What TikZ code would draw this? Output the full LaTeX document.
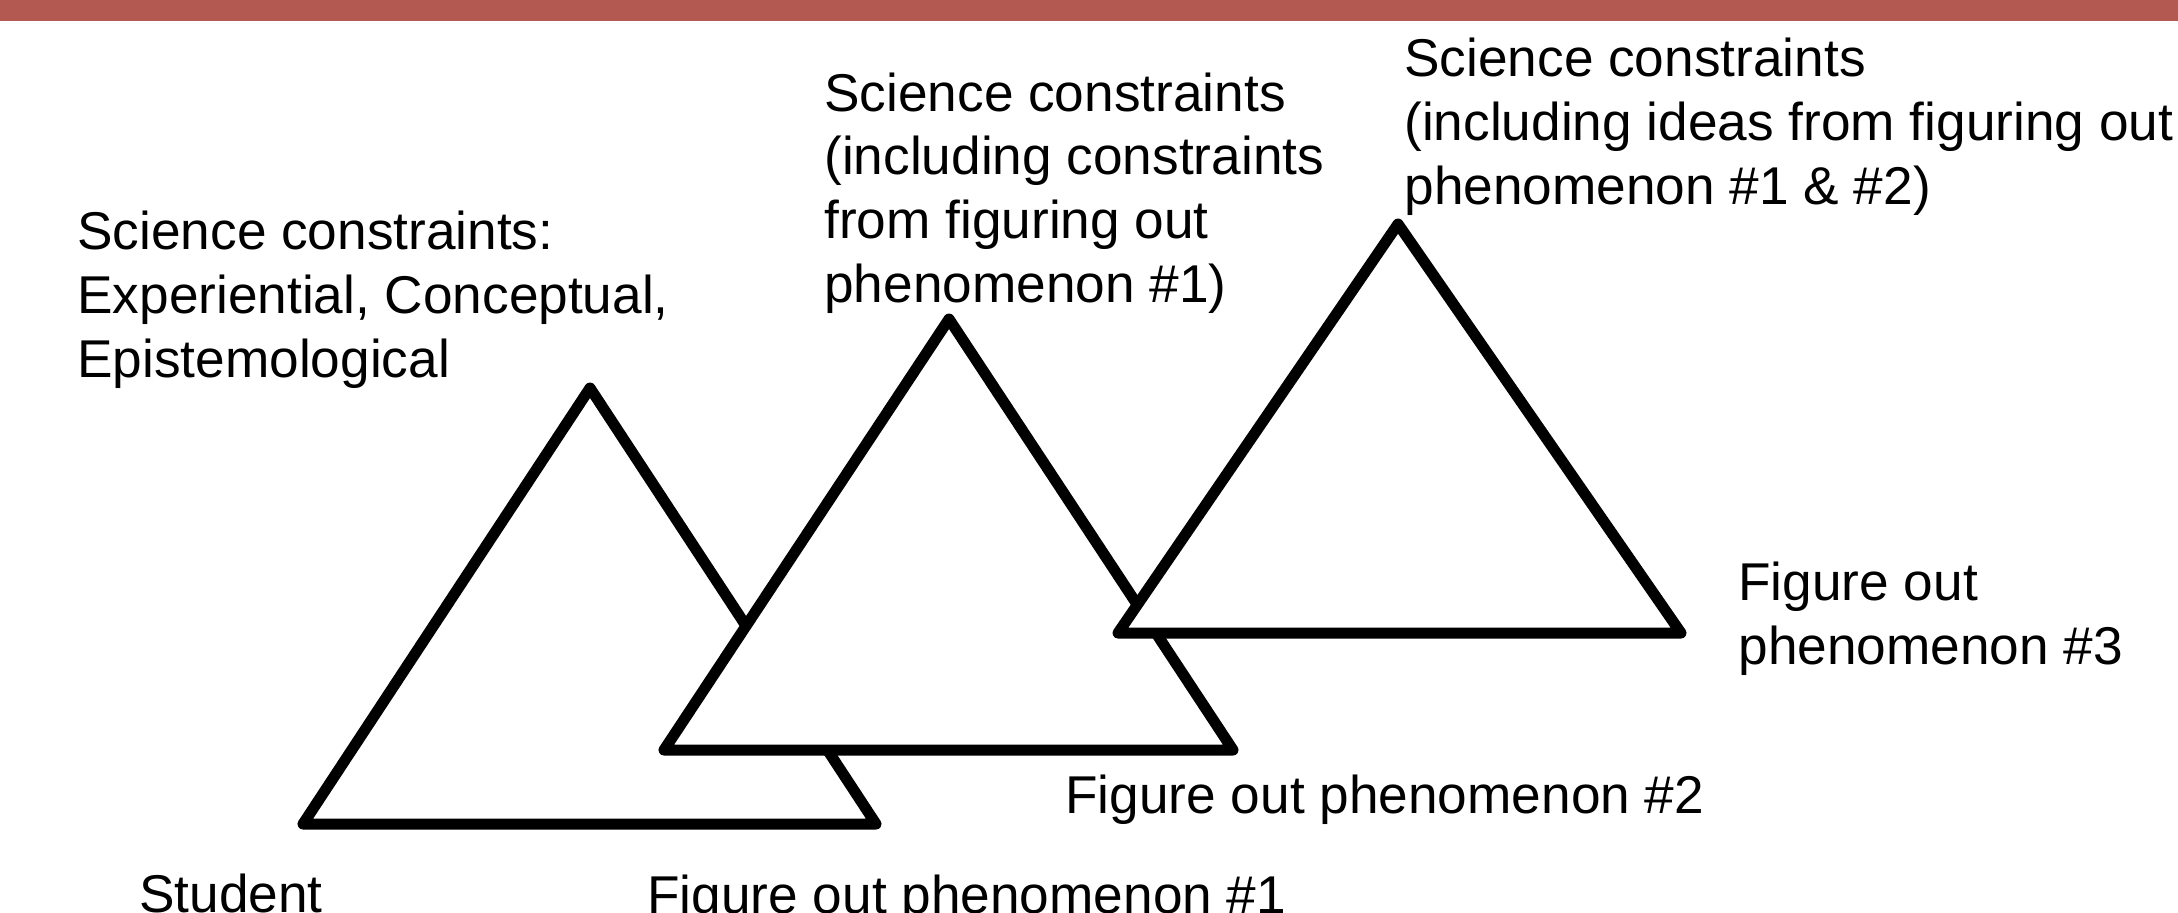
\documentclass[tikz,border=0pt]{standalone}
\usepackage{fontspec}
\setmainfont{Liberation Sans}
\definecolor{barred}{RGB}{180,89,81}
\tikzset{
  lbl/.style={anchor=base west, inner sep=0pt, align=left, font=\fontsize{26.6}{31.8}\selectfont},
  tri/.style={draw=black, fill=white, line width=5.5pt, line join=round}
}
\begin{document}
\begin{tikzpicture}[x=0.5pt,y=-0.5pt]
\useasboundingbox (0,0) rectangle (2178,912);
\fill[barred] (0,0) rectangle (2178,21);
% triangle 1
\coordinate (a1) at (590,388);
\coordinate (b1) at (303,824);
\coordinate (c1) at (876,824);
\draw[tri] (a1) -- (c1) -- (b1) -- cycle;
% triangle 2
\coordinate (a2) at (949,319);
\coordinate (b2) at (664,750);
\coordinate (c2) at (1233,750);
\draw[tri] (a2) -- (c2) -- (b2) -- cycle;
% triangle 3
\coordinate (a3) at (1398,224);
\coordinate (b3) at (1118,633);
\coordinate (c3) at (1681,633);
\draw[tri] (a3) -- (c3) -- (b3) -- cycle;
% labels (anchor = baseline of last line)
\node[lbl] (t1) at (77,377) {Science constraints:\\Experiential, Conceptual,\\Epistemological};
\node[lbl] (t2) at (824,302) {Science constraints\\(including constraints\\from figuring out\\phenomenon \#1)};
\node[lbl] (t3) at (1404,204) {Science constraints\\(including ideas from figuring out\\phenomenon \#1 \& \#2)};
\node[lbl] (s) at (139,912) {Student};
\node[lbl] (p1) at (647,913) {Figure out phenomenon \#1};
\node[lbl] (p2) at (1065,813) {Figure out phenomenon \#2};
\node[lbl] (p3) at (1738,664) {Figure out\\phenomenon \#3};
\end{tikzpicture}
\end{document}
